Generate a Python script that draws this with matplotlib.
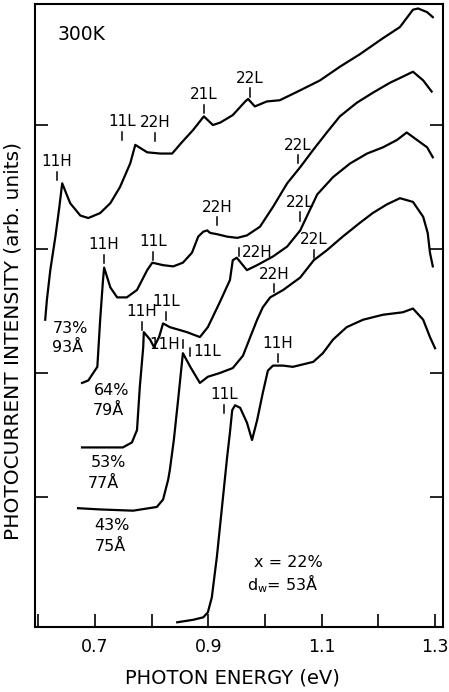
import numpy as np
import matplotlib
matplotlib.use("Agg")
import matplotlib.pyplot as plt

plt.rcParams['font.family'] = ['DejaVu Sans']
plt.rcParams['mathtext.default'] = 'regular'

# Photocurrent spectra at 300 K, vertically offset (photon energy in eV, intensity in arb. units)
e_73 = [0.612, 0.615, 0.621, 0.630, 0.637, 0.642, 0.656, 0.674, 0.688, 0.709, 0.727, 0.744,
        0.762, 0.771, 0.792, 0.815, 0.836, 0.853, 0.873, 0.892, 0.908, 0.921, 0.943, 0.965,
        0.970, 0.982, 1.003, 1.026, 1.062, 1.097, 1.132, 1.167, 1.208, 1.238, 1.261, 1.270,
        1.286, 1.296]
i_73 = [2.43, 2.59, 2.83, 3.10, 3.34, 3.53, 3.37, 3.27, 3.25, 3.29, 3.37, 3.50,
        3.69, 3.84, 3.78, 3.77, 3.77, 3.86, 3.96, 4.07, 4.00, 4.02, 4.08, 4.19,
        4.21, 4.15, 4.19, 4.20, 4.28, 4.36, 4.47, 4.57, 4.70, 4.79, 4.93, 4.94,
        4.91, 4.87]

e_64 = [0.677, 0.688, 0.704, 0.709, 0.714, 0.716, 0.727, 0.739, 0.756, 0.774, 0.792, 0.801,
        0.820, 0.838, 0.855, 0.871, 0.882, 0.891, 0.898, 0.903, 0.915, 0.933, 0.951, 0.968,
        0.991, 1.014, 1.039, 1.062, 1.085, 1.109, 1.132, 1.162, 1.190, 1.220, 1.243, 1.261,
        1.279, 1.294]
i_64 = [1.92, 1.94, 2.05, 2.43, 2.75, 2.85, 2.69, 2.61, 2.61, 2.67, 2.83, 2.89,
        2.87, 2.86, 2.89, 2.97, 3.10, 3.14, 3.15, 3.13, 3.12, 3.10, 3.09, 3.11,
        3.18, 3.34, 3.53, 3.66, 3.80, 3.94, 4.07, 4.18, 4.26, 4.34, 4.39, 4.43,
        4.36, 4.27]

e_53 = [0.677, 0.709, 0.749, 0.765, 0.774, 0.779, 0.785, 0.786, 0.797, 0.804, 0.813, 0.820,
        0.832, 0.862, 0.885, 0.899, 0.920, 0.938, 0.943, 0.950, 0.968, 0.986, 1.014, 1.039,
        1.062, 1.092, 1.120, 1.150, 1.180, 1.208, 1.233, 1.250, 1.268, 1.286, 1.296]
i_53 = [1.40, 1.40, 1.40, 1.44, 1.54, 1.89, 2.21, 2.33, 2.27, 2.21, 2.29, 2.40,
        2.37, 2.33, 2.29, 2.37, 2.57, 2.75, 2.91, 2.93, 2.83, 2.87, 2.94, 3.02,
        3.15, 3.44, 3.58, 3.69, 3.77, 3.82, 3.88, 3.94, 3.88, 3.82, 3.74]

e_43 = [0.670, 0.709, 0.767, 0.809, 0.820, 0.829, 0.832, 0.839, 0.846, 0.855, 0.868, 0.885,
        0.899, 0.920, 0.943, 0.961, 0.973, 0.986, 0.996, 1.009, 1.032, 1.062, 1.086, 1.109,
        1.137, 1.167, 1.190, 1.215, 1.238, 1.261, 1.279, 1.287, 1.291, 1.296]
i_43 = [0.91, 0.90, 0.89, 0.92, 0.98, 1.14, 1.22, 1.46, 1.76, 2.16, 2.05, 1.92,
        1.97, 2.00, 2.04, 2.14, 2.28, 2.43, 2.53, 2.61, 2.67, 2.77, 2.91, 2.99,
        3.10, 3.21, 3.29, 3.36, 3.41, 3.38, 3.26, 3.13, 2.97, 2.86]

e_22 = [0.845, 0.873, 0.891, 0.899, 0.906, 0.915, 0.924, 0.933, 0.938, 0.942, 0.947, 0.956,
        0.968, 0.977, 0.986, 0.996, 1.005, 1.014, 1.032, 1.049, 1.085, 1.102, 1.120, 1.144,
        1.173, 1.208, 1.243, 1.261, 1.279, 1.291, 1.300]
i_22 = [-0.01, 0.01, 0.03, 0.07, 0.19, 0.52, 0.92, 1.32, 1.52, 1.70, 1.74, 1.72,
        1.60, 1.46, 1.62, 1.84, 2.02, 2.06, 2.06, 2.05, 2.09, 2.16, 2.27, 2.37,
        2.43, 2.47, 2.49, 2.52, 2.43, 2.29, 2.20]

spectra = {
    "73": (e_73, i_73),
    "64": (e_64, i_64),
    "53": (e_53, i_53),
    "43": (e_43, i_43),
    "22": (e_22, i_22),
}

# Transition markers: (energy, level of marker foot, label, label side)
markers = [
    (0.633, 3.56, "11H", "top"), (0.748, 3.88, "11L", "top"), (0.806, 3.87, "22H", "top"),
    (0.892, 4.10, "21L", "top"), (0.973, 4.23, "22L", "top"),
    (0.716, 2.89, "11H", "top"), (0.802, 2.91, "11L", "top"), (0.915, 3.19, "22H", "top"),
    (1.058, 3.69, "22L", "top"),
    (0.783, 2.35, "11H", "top"), (0.825, 2.43, "11L", "top"), (0.954, 2.94, "22H", "right"),
    (1.062, 3.23, "22L", "top"),
    (0.855, 2.20, "11H", "left"), (0.868, 2.14, "11L", "right"), (1.016, 2.65, "22H", "top"),
    (1.086, 2.93, "22L", "top"),
    (0.928, 1.68, "11L", "top"), (1.023, 2.09, "11H", "top"),
]

# Sample composition / well width labels
sample_labels = [
    (0.656, 2.36, "73%"), (0.651, 2.21, "93Å"),
    (0.730, 1.86, "64%"), (0.723, 1.70, "79Å"),
    (0.723, 1.28, "53%"), (0.714, 1.11, "77Å"),
    (0.730, 0.77, "43%"), (0.727, 0.60, "75Å"),
]

fig = plt.figure(figsize=(4.49, 6.92), dpi=100)
ax = fig.add_axes([35 / 449, 1 - 627 / 692, 408 / 449, 623 / 692])

for key, (e, inten) in spectra.items():
    ax.plot(e, inten, color="black", lw=1.6, solid_joinstyle="round")

tick_h = 0.065
for e, lvl, lab, side in markers:
    ax.plot([e, e], [lvl, lvl + tick_h], color="black", lw=1.1)
    if side == "top":
        ax.annotate(lab, (e, lvl + tick_h), xytext=(0, 2), textcoords="offset points",
                    ha="center", va="bottom", fontsize=11)
    elif side == "left":
        ax.annotate(lab, (e, lvl + tick_h / 2), xytext=(-2, 0), textcoords="offset points",
                    ha="right", va="center", fontsize=11)
    else:
        ax.annotate(lab, (e, lvl + tick_h / 2), xytext=(2, 0), textcoords="offset points",
                    ha="left", va="center", fontsize=11)

for x, y, s in sample_labels:
    ax.text(x, y, s, ha="center", va="center", fontsize=11.5)

ax.text(0.981, 0.47, "x = 22%", ha="left", va="center", fontsize=11.5)
ax.text(0.969, 0.30, "d$_w$= 53Å", ha="left", va="center", fontsize=11.5)
ax.text(0.633, 4.73, "300K", ha="left", va="center", fontsize=13.5)

ax.set_xlim(0.594, 1.314)
ax.set_ylim(-0.048, 4.976)
xt = [0.6, 0.7, 0.8, 0.9, 1.0, 1.1, 1.2, 1.3]
ax.set_xticks(xt)
ax.set_xticklabels(["", "0.7", "", "0.9", "", "1.1", "", "1.3"])
ax.set_yticks([1, 2, 3, 4])
ax.tick_params(axis="x", direction="in", length=9.5, width=1.2, labelsize=12.5, pad=8)
ax.tick_params(axis="y", direction="in", length=9.5, width=1.2, left=True, right=True,
               labelleft=False)
for sp in ax.spines.values():
    sp.set_linewidth(1.5)

ax.set_xlabel("PHOTON ENERGY (eV)", fontsize=14)
ax.xaxis.set_label_coords(0.485, -0.066)
ax.set_ylabel("PHOTOCURRENT INTENSITY (arb. units)", fontsize=14.5)
ax.yaxis.set_label_coords(-0.031, 0.459)

fig.savefig("out.png", dpi=100)
